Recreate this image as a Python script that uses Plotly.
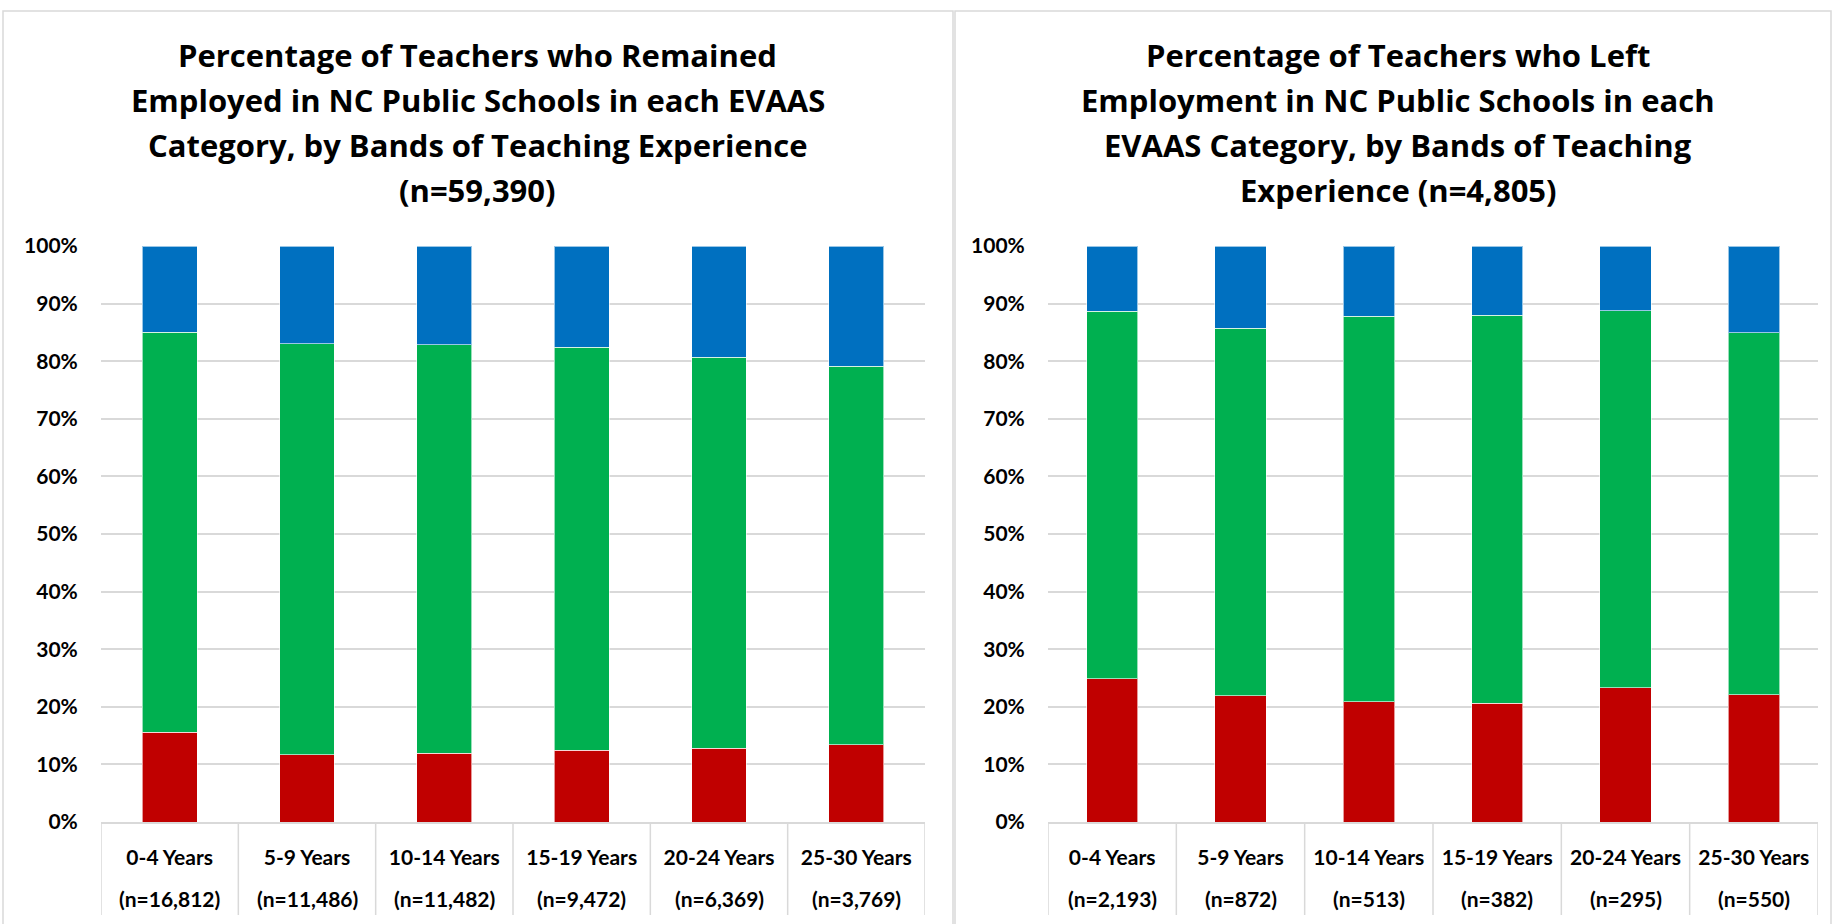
import plotly.graph_objects as go

W, H = 1834, 924

categories = ["0-4 Years", "5-9 Years", "10-14 Years", "15-19 Years", "20-24 Years", "25-30 Years"]

# Left chart: remained employed (percent of band)
left_n = ["(n=16,812)", "(n=11,486)", "(n=11,482)", "(n=9,472)", "(n=6,369)", "(n=3,769)"]
left_red = [15.6, 11.7, 11.9, 12.5, 12.8, 13.4]
left_green = [69.4, 71.3, 71.0, 69.9, 67.9, 65.7]
left_blue = [15.0, 17.0, 17.1, 17.6, 19.3, 20.9]

# Right chart: left employment (percent of band)
right_n = ["(n=2,193)", "(n=872)", "(n=513)", "(n=382)", "(n=295)", "(n=550)"]
right_red = [24.9, 21.9, 20.9, 20.6, 23.3, 22.1]
right_green = [63.8, 63.8, 66.9, 67.4, 65.5, 62.8]
right_blue = [11.3, 14.3, 12.2, 12.0, 11.2, 15.1]

series_names = ["Does Not Meet Expected Growth", "Meets Expected Growth", "Exceeds Expected Growth"]
colors = ["#C00000", "#00B050", "#0070C0"]

left_title = ["Percentage of Teachers who Remained",
              "Employed in NC Public Schools in each EVAAS",
              "Category, by Bands of Teaching Experience",
              "(n=59,390)"]
right_title = ["Percentage of Teachers who Left",
               "Employment in NC Public Schools in each",
               "EVAAS Category, by Bands of Teaching",
               "Experience (n=4,805)"]

TFONT = "'Open Sans', Lato, sans-serif"
FONT = "Lato, 'Open Sans', sans-serif"
GRID = "#D9D9D9"

def px(x):
    return x / W

def py(y):
    return 1 - y / H

fig = go.Figure()

for axis_id, (r, g, b) in zip(["", "2"], [(left_red, left_green, left_blue), (right_red, right_green, right_blue)]):
    for name, vals, col in zip(series_names, [r, g, b], colors):
        fig.add_trace(go.Bar(
            x=categories, y=vals, name=name,
            marker=dict(color=col, line=dict(color="rgba(255,255,255,0.6)", width=1)),
            xaxis="x" + axis_id, yaxis="y" + axis_id, showlegend=False,
        ))

ydom = [py(822), py(246)]
xdoms = [[px(101), px(925)], [px(1048), px(1818)]]

common_x = dict(
    type="category", showgrid=False, showline=True, linecolor=GRID, linewidth=1.5,
    ticks="outside", ticklen=16, tickcolor="rgba(0,0,0,0)", automargin=False,
    tickfont=dict(family=FONT, size=21, color="#000000", weight="bold"),
    range=[-0.5, 5.5], fixedrange=True,
)
common_y = dict(
    range=[0, 100], dtick=10, ticksuffix="%", showgrid=True, gridcolor=GRID, gridwidth=1.5,
    zeroline=False, showline=False, ticks="outside", ticklen=18, tickcolor="rgba(0,0,0,0)",
    automargin=False,
    tickfont=dict(family=FONT, size=21, color="#000000", weight="bold"), fixedrange=True,
)

fig.update_layout(
    width=W, height=H, autosize=False,
    margin=dict(l=0, r=0, t=0, b=0, pad=0, autoexpand=False),
    paper_bgcolor="white", plot_bgcolor="white", showlegend=False,
    barmode="stack", bargap=0.6,
    xaxis=dict(domain=xdoms[0], anchor="y", **common_x),
    yaxis=dict(domain=ydom, anchor="x", **common_y),
    xaxis2=dict(domain=xdoms[1], anchor="y2", **common_x),
    yaxis2=dict(domain=ydom, anchor="x2", **common_y),
)

shapes = []
# panel borders
shapes.append(dict(type="rect", xref="paper", yref="paper", x0=px(3), x1=px(953), y0=py(935), y1=py(11),
                   line=dict(color=GRID, width=1.5), layer="below"))
shapes.append(dict(type="rect", xref="paper", yref="paper", x0=px(955), x1=px(1831), y0=py(935), y1=py(11),
                   line=dict(color=GRID, width=1.5), layer="below"))
# category dividers below the axis
for xr in ["x", "x2"]:
    for i in range(len(categories) + 1):
        shapes.append(dict(type="line", xref=xr, yref="paper", x0=i - 0.5, x1=i - 0.5,
                           y0=py(915), y1=py(822), line=dict(color=GRID, width=1.5)))

annotations = []
title_y = [55, 100, 145, 190]
for lines, cx in [(left_title, 478), (right_title, 1398)]:
    for t, yy in zip(lines, title_y):
        annotations.append(dict(text=t, xref="paper", yref="paper", x=px(cx), y=py(yy),
                                xanchor="center", yanchor="middle", showarrow=False,
                                font=dict(family=TFONT, size=31, color="#000000", weight="bold")))
for xr, ns in [("x", left_n), ("x2", right_n)]:
    for c, n in zip(categories, ns):
        annotations.append(dict(text=n, xref=xr, yref="paper", x=c, y=py(898),
                                xanchor="center", yanchor="middle", showarrow=False,
                                font=dict(family=FONT, size=21, color="#000000", weight="bold")))

fig.update_layout(shapes=shapes, annotations=annotations)

fig.write_html(
    "out.html", include_plotlyjs=True, config={"displayModeBar": False},
    post_script=("document.documentElement.style.margin='0';document.documentElement.style.padding='0';"
                 "document.documentElement.style.overflow='hidden';"
                 "document.body.style.margin='0';document.body.style.padding='0';"
                 "document.body.style.overflow='hidden';"),
)
